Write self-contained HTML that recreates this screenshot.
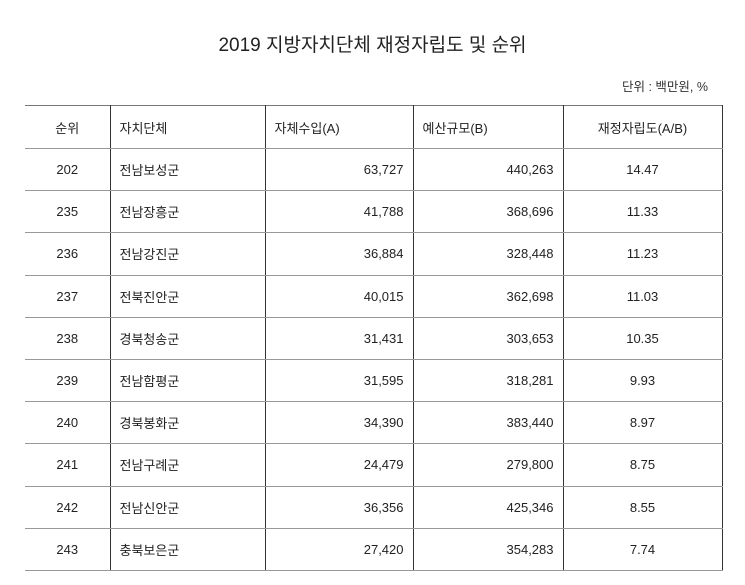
<!DOCTYPE html>
<html><head><meta charset="utf-8"><style>
body{margin:0;background:#fff;width:745px;height:585px;overflow:hidden;font-family:"Liberation Sans","Noto Sans CJK KR",sans-serif;color:#222}
.title{position:absolute;top:30px;left:0;width:745px;text-align:center;font-size:19px;color:#222}
.unit{position:absolute;top:76px;right:37px;font-size:12.5px;color:#333}
table{position:absolute;top:105px;left:25px;border-collapse:collapse;font-size:13px}
td{height:41.2px;border-bottom:1.5px solid #999;border-right:1.5px solid #333;padding:0 9px;white-space:nowrap}
tr:first-child td{border-top:1.5px solid #777;height:42px}
td:last-child{border-right:1.5px solid #333}
.c{text-align:center}.r{text-align:right}.l{text-align:left}
</style></head><body>
<div class="title">2019 지방자치단체 재정자립도 및 순위</div>
<div class="unit">단위 : 백만원, %</div>
<table>
<colgroup><col style="width:85px"><col style="width:155px"><col style="width:148px"><col style="width:150px"><col style="width:159px"></colgroup>
<tr><td class="c">순위</td><td class="l">자치단체</td><td class="l">자체수입(A)</td><td class="l">예산규모(B)</td><td class="c">재정자립도(A/B)</td></tr>
<tr><td class="c">202</td><td>전남보성군</td><td class="r">63,727</td><td class="r">440,263</td><td class="c">14.47</td></tr>
<tr><td class="c">235</td><td>전남장흥군</td><td class="r">41,788</td><td class="r">368,696</td><td class="c">11.33</td></tr>
<tr><td class="c">236</td><td>전남강진군</td><td class="r">36,884</td><td class="r">328,448</td><td class="c">11.23</td></tr>
<tr><td class="c">237</td><td>전북진안군</td><td class="r">40,015</td><td class="r">362,698</td><td class="c">11.03</td></tr>
<tr><td class="c">238</td><td>경북청송군</td><td class="r">31,431</td><td class="r">303,653</td><td class="c">10.35</td></tr>
<tr><td class="c">239</td><td>전남함평군</td><td class="r">31,595</td><td class="r">318,281</td><td class="c">9.93</td></tr>
<tr><td class="c">240</td><td>경북봉화군</td><td class="r">34,390</td><td class="r">383,440</td><td class="c">8.97</td></tr>
<tr><td class="c">241</td><td>전남구례군</td><td class="r">24,479</td><td class="r">279,800</td><td class="c">8.75</td></tr>
<tr><td class="c">242</td><td>전남신안군</td><td class="r">36,356</td><td class="r">425,346</td><td class="c">8.55</td></tr>
<tr><td class="c">243</td><td>충북보은군</td><td class="r">27,420</td><td class="r">354,283</td><td class="c">7.74</td></tr>
</table>
</body></html>
